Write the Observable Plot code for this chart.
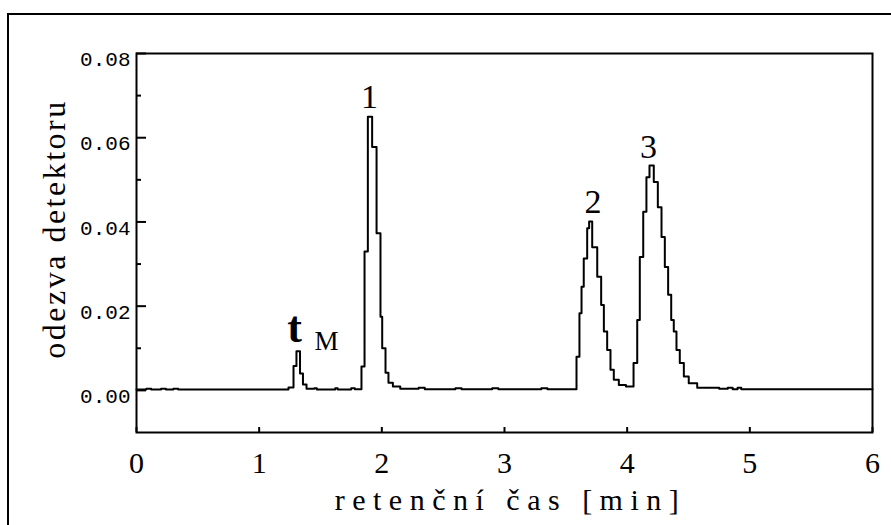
<!DOCTYPE html>
<html><head><meta charset="utf-8">
<script src="https://cdn.jsdelivr.net/npm/d3@7"></script>
<script src="https://cdn.jsdelivr.net/npm/@observablehq/plot@0.6"></script>
<style>
body{margin:0;background:#fff;}
#wrap{position:relative;width:891px;height:525px;overflow:hidden;}
#border{position:absolute;left:7px;top:13px;width:1000px;height:1000px;border-top:2px solid #000;border-left:2px solid #000;pointer-events:none;}
</style></head>
<body><div id="wrap"><div id="border"></div></div>
<script>
// chromatogram (retention time in min, detector response)
const time = [0.00,0.08,0.12,0.20,0.24,0.30,0.34,0.60,1.00,1.239,1.280,1.304,1.333,1.357,1.386,
  1.45,1.47,1.62,1.64,1.75,1.78,
  1.834,1.859,1.886,1.921,1.957,1.989,2.003,2.030,2.054,2.090,2.150,
  2.30,2.35,2.60,2.65,2.90,2.95,3.30,3.35,
  3.587,3.611,3.628,3.646,3.674,3.690,3.715,3.756,3.788,3.810,3.837,3.864,3.891,3.932,3.990,
  4.052,4.082,4.103,4.131,4.157,4.182,4.217,4.250,4.280,4.307,4.334,4.359,4.380,4.402,4.429,4.462,4.502,4.571,
  4.75,4.82,4.86,4.90,4.93,5.50,6.00];
const signal = [0.0002,0.0004,0.0002,0.0004,0.0002,0.0004,0.0002,0.0002,0.0002,0.0007,0.0058,0.0093,0.0040,0.0014,0.0004,
  0.0005,0.0002,0.0005,0.0002,0.0005,0.0003,
  0.0057,0.0330,0.0650,0.0578,0.0373,0.0175,0.0100,0.0042,0.0018,0.0009,0.0004,
  0.0006,0.0003,0.0005,0.0003,0.0005,0.0003,0.0005,0.0003,
  0.0080,0.0183,0.0246,0.0313,0.0385,0.0401,0.0340,0.0270,0.0203,0.0140,0.0096,0.0049,0.0025,0.0013,0.0009,
  0.0065,0.0167,0.0317,0.0424,0.0506,0.0534,0.0495,0.0435,0.0364,0.0293,0.0227,0.0167,0.0140,0.0096,0.0065,0.0033,0.0017,0.0006,
  0.0004,0.0006,0.0003,0.0006,0.0003,0.0003,0.0003];

const xTicks = [0,1,2,3,4,5,6];
const yMajor = [0,0.02,0.04,0.06,0.08];
const yMinor = [0.01,0.03,0.05,0.07];
const xDomain = [0,6];
const yDomain = [-0.01,0.08];

const peakLabels = ["1","2","3"];
const peakX = [1.90,3.721,4.174];
const peakY = [0.0671,0.0421,0.0553];
const tmLabel = ["t"], tmX = [1.288], tmY = [0.0116];
const tmSub = ["M"], tmSubX = [1.549], tmSubY = [0.0096];

const xTitle = "retenční čas [min]";
const yTitle = "odezva detektoru";

const SERIF = "Liberation Serif";
const MONO = "Liberation Mono";

const data = time.map((t,i)=>({t, v: signal[i]}));
const peaks = peakLabels.map((s,i)=>({s, x: peakX[i], y: peakY[i]}));
const tm = tmLabel.map((s,i)=>({s, x: tmX[i], y: tmY[i]}));
const tms = tmSub.map((s,i)=>({s, x: tmSubX[i], y: tmSubY[i]}));

const chart = Plot.plot({
  width: 891, height: 525,
  marginLeft: 136, marginRight: 19, marginTop: 53, marginBottom: 93,
  x: {domain: xDomain, label: null},
  y: {domain: yDomain, label: null},
  style: {background: "transparent", color: "#000"},
  marks: [
    Plot.axisX(xTicks, {tickSize: -5, tickFormat: () => "", strokeWidth: 2, label: null}),
    Plot.axisX(xTicks, {tickSize: 0, tickPadding: 19, fontSize: 30, fontFamily: SERIF, tickFormat: d => String(d), label: null}),
    Plot.axisY(yMajor, {tickSize: -10, tickFormat: () => "", strokeWidth: 2, label: null}),
    Plot.axisY(yMinor, {tickSize: -5, tickFormat: () => "", strokeWidth: 2, label: null}),
    Plot.axisY(yMajor, {tickSize: 0, tickPadding: 6, dy: 6, fontSize: 21, fontFamily: MONO, tickFormat: d3.format(".2f"), label: null}),
    Plot.line(data, {x: "t", y: "v", curve: "step-after", stroke: "#000", strokeWidth: 2}),
    Plot.frame({stroke: "#000", strokeWidth: 2}),
    Plot.text(peaks, {x: "x", y: "y", text: "s", lineAnchor: "bottom", fontSize: 34, fontFamily: SERIF, fill: "#000"}),
    Plot.text(tm, {x: "x", y: "y", text: "s", lineAnchor: "bottom", fontSize: 44, fontWeight: "bold", fontFamily: SERIF, fill: "#000"}),
    Plot.text(tms, {x: "x", y: "y", text: "s", lineAnchor: "bottom", fontSize: 27, fontFamily: SERIF, fill: "#000"}),
    Plot.text([xTitle], {frameAnchor: "bottom", textAnchor: "middle", dy: 77, dx: 6, lineAnchor: "bottom", text: d => d, fontSize: 30, fontFamily: SERIF, fill: "#000"}),
    Plot.text([yTitle], {frameAnchor: "left", textAnchor: "middle", rotate: -90, dx: -72, dy: -14, lineAnchor: "bottom", text: d => d, fontSize: 32, fontFamily: SERIF, fill: "#000"})
  ]
});
// wide letter-spacing of the axis titles, as in the original
d3.select(chart).selectAll("text").each(function() {
  const t = this.textContent;
  if (t === xTitle) this.style.letterSpacing = "7.5px";
  if (t === yTitle) this.style.letterSpacing = "2.5px";
});
document.getElementById("wrap").appendChild(chart);
</script>
</body></html>
